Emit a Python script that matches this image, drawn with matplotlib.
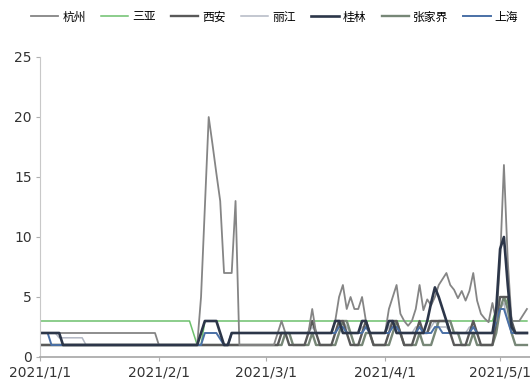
import matplotlib
matplotlib.use("Agg")
import matplotlib.pyplot as plt
import pandas as pd

# Daily index values, 2021-01-01 .. 2021-05-08
dates = pd.date_range("2021-01-01", "2021-05-08", freq="D")

hangzhou = [
    2, 2, 2, 2, 2, 2, 2, 2, 2, 2,
    2, 2, 2, 2, 2, 2, 2, 2, 2, 2,
    2, 2, 2, 2, 2, 2, 2, 2, 2, 2,
    2, 1, 1, 1, 1, 1, 1, 1, 1, 1,
    1, 1, 5, 12.5, 20, 17.7, 15.3, 13, 7, 7,
    7, 13, 1, 1, 1, 1, 1, 1, 1, 1,
    1, 1, 2, 3, 2, 2, 2, 2, 2, 2,
    2, 4, 2, 2, 2, 2, 2, 3, 5, 6,
    4, 5, 4, 4, 5, 3, 2, 2, 2, 2,
    2, 4, 5, 6, 3.6, 3, 2.6, 3, 4, 6,
    3.9, 4.8, 4.3, 5, 6, 6.5, 7, 6, 5.6, 4.9,
    5.5, 4.7, 5.5, 7, 4.7, 3.6, 3.2, 2.9, 4.5, 3,
    8, 16, 8, 3, 3, 3, 3.5, 4,
]

sanya = [
    3, 3, 3, 3, 3, 3, 3, 3, 3, 3,
    3, 3, 3, 3, 3, 3, 3, 3, 3, 3,
    3, 3, 3, 3, 3, 3, 3, 3, 3, 3,
    3, 3, 3, 3, 3, 3, 3, 3, 3, 3,
    2, 1, 1, 3, 3, 3, 3, 3, 3, 3,
    3, 3, 3, 3, 3, 3, 3, 3, 3, 3,
    3, 3, 3, 3, 3, 3, 3, 3, 3, 3,
    3, 3, 3, 3, 3, 3, 3, 3, 3, 3,
    3, 3, 3, 3, 3, 3, 3, 3, 3, 3,
    3, 3, 3, 3, 3, 3, 3, 3, 3, 3,
    3, 3, 3, 3, 3, 3, 3, 3, 3, 3,
    3, 3, 3, 3, 3, 3, 3, 3, 3, 4,
    5, 5, 4.5, 3, 3, 3, 3, 3,
]

xian = [
    1, 1, 1, 1, 1, 1, 1, 1, 1, 1,
    1, 1, 1, 1, 1, 1, 1, 1, 1, 1,
    1, 1, 1, 1, 1, 1, 1, 1, 1, 1,
    1, 1, 1, 1, 1, 1, 1, 1, 1, 1,
    1, 1, 1, 1, 1, 1, 1, 1, 1, 1,
    1, 1, 1, 1, 1, 1, 1, 1, 1, 1,
    1, 1, 1, 2, 2, 1, 1, 1, 1, 1,
    2, 3, 2, 1, 1, 1, 1, 2, 3, 3,
    2, 1, 1, 1, 2, 3, 2, 1, 1, 1,
    1, 2, 3, 3, 2, 1, 1, 1, 2, 3,
    2, 2, 3, 3, 3, 3, 3, 2, 1, 1,
    1, 1, 2, 3, 2, 1, 1, 1, 1, 3,
    5, 5, 5, 3, 2, 2, 2, 2,
]

lijiang = [
    2, 2, 2, 2, 2, 1.6, 1.6, 1.6, 1.6, 1.6,
    1.6, 1.6, 1, 1, 1, 1, 1, 1, 1, 1,
    1, 1, 1, 1, 1, 1, 1, 1, 1, 1,
    1, 1, 1, 1, 1, 1, 1, 1, 1, 1,
    1, 1, 1, 1, 1, 1, 1, 1, 1, 1,
    1, 1, 1, 1, 1, 1, 1, 1, 1, 1,
    1, 1, 1, 2, 2, 2, 2, 2, 2, 2,
    2, 2.5, 2, 2, 2, 2, 2, 2, 2.5, 3,
    2.5, 2, 2, 2, 2.5, 2.5, 2, 2, 2, 2,
    2, 2.5, 3, 2.5, 2, 2, 2, 2, 2.5, 2.5,
    2, 2, 2.5, 3, 2.5, 2.5, 2.5, 2, 2, 2,
    2, 2, 2.5, 2.5, 2, 2, 2, 2, 2, 3,
    4, 4.5, 3, 2, 2, 2, 2, 2,
]

guilin = [
    2, 2, 2, 2, 2, 2, 1, 1, 1, 1,
    1, 1, 1, 1, 1, 1, 1, 1, 1, 1,
    1, 1, 1, 1, 1, 1, 1, 1, 1, 1,
    1, 1, 1, 1, 1, 1, 1, 1, 1, 1,
    1, 1, 2, 3, 3, 3, 3, 2, 1, 1,
    2, 2, 2, 2, 2, 2, 2, 2, 2, 2,
    2, 2, 2, 2, 2, 2, 2, 2, 2, 2,
    2, 2, 2, 2, 2, 2, 2, 3, 3, 2,
    2, 2, 2, 2, 3, 3, 2, 2, 2, 2,
    2, 3, 3, 2, 2, 2, 2, 2, 2, 2,
    2, 3, 4.5, 5.8, 5, 4, 3, 2, 2, 2,
    2, 2, 2, 2, 2, 2, 2, 2, 2, 4,
    9, 10, 6, 2.5, 2, 2, 2, 2,
]

zhangjiajie = [
    1, 1, 1, 1, 1, 1, 1, 1, 1, 1,
    1, 1, 1, 1, 1, 1, 1, 1, 1, 1,
    1, 1, 1, 1, 1, 1, 1, 1, 1, 1,
    1, 1, 1, 1, 1, 1, 1, 1, 1, 1,
    1, 1, 1, 1, 1, 1, 1, 1, 1, 1,
    1, 1, 1, 1, 1, 1, 1, 1, 1, 1,
    1, 1, 1, 1, 2, 2, 1, 1, 1, 1,
    1, 2, 1, 1, 1, 1, 1, 1, 2, 3,
    3, 2, 1, 1, 1, 2, 2, 1, 1, 1,
    1, 1, 2, 3, 2, 1, 1, 1, 1, 2,
    1, 1, 1, 2, 3, 3, 3, 3, 2, 2,
    1, 1, 1, 2, 1, 1, 1, 1, 1, 2,
    4, 5, 4, 2, 1, 1, 1, 1,
]

shanghai = [
    2, 2, 2, 1, 1, 1, 1, 1, 1, 1,
    1, 1, 1, 1, 1, 1, 1, 1, 1, 1,
    1, 1, 1, 1, 1, 1, 1, 1, 1, 1,
    1, 1, 1, 1, 1, 1, 1, 1, 1, 1,
    1, 1, 1, 2, 2, 2, 2, 1.5, 1, 1,
    2, 2, 2, 2, 2, 2, 2, 2, 2, 2,
    2, 2, 2, 2, 2, 2, 2, 2, 2, 2,
    2, 2, 2, 2, 2, 2, 2, 2, 2.5, 2.5,
    2, 2, 2, 2, 2, 2.5, 2, 2, 2, 2,
    2, 2, 2.5, 2.5, 2, 2, 2, 2, 2, 2.5,
    2, 2, 2, 2.5, 2.5, 2, 2, 2, 2, 2,
    2, 2, 2, 2.5, 2, 2, 2, 2, 2, 3,
    4, 4, 3, 2, 2, 2, 2, 2,
]

names = ["杭州", "三亚", "西安", "丽江", "桂林", "张家界", "上海"]
series = [hangzhou, sanya, xian, lijiang, guilin, zhangjiajie, shanghai]
colors = ["#858585", "#6cc06c", "#595959", "#b3b8c4", "#2c3649", "#778777", "#4a70a6"]
widths = [1.3, 1.1, 1.7, 1.1, 1.9, 1.7, 1.4]

yticks = [0, 5, 10, 15, 20, 25]
xtick_dates = pd.to_datetime(["2021-01-01", "2021-02-01", "2021-03-01", "2021-04-01", "2021-05-01"])
xtick_labels = ["2021/1/1", "2021/2/1", "2021/3/1", "2021/4/1", "2021/5/1"]

fig = plt.figure(figsize=(5.3, 3.89), dpi=100)
ax = fig.add_axes([40 / 530, 1 - 357 / 389, 490 / 530, (357 - 57) / 389])

# draw the light series first so the dark ones sit on top
order = [3, 1, 5, 2, 6, 0, 4]
lines = {}
for i in order:
    (ln,) = ax.plot(dates, series[i], color=colors[i], lw=widths[i])
    lines[i] = ln

ax.set_ylim(0, 25)
ax.set_yticks(yticks)
ax.set_xlim(pd.Timestamp("2021-01-01"), pd.Timestamp("2021-01-01") + pd.Timedelta(days=127.8))
ax.set_xticks(xtick_dates)
ax.set_xticklabels(xtick_labels)

for lab in ax.get_xticklabels() + ax.get_yticklabels():
    lab.set_fontsize(10)
    lab.set_color("#333333")

for s in ["top", "right"]:
    ax.spines[s].set_visible(False)
ax.spines["left"].set_color("#c8c8c8")
ax.spines["bottom"].set_color("#a6a6a6")
ax.spines["bottom"].set_linewidth(1.2)
ax.tick_params(axis="both", direction="out", length=3, color="#b0b0b0", pad=3)

handles = [lines[i] for i in range(7)]
fig.legend(handles, names, loc="center", bbox_to_anchor=(0.518, 1 - 17 / 389), ncol=7,
           frameon=False, handlelength=2.3, handletextpad=0.35, columnspacing=1.3,
           prop={"family": ["Noto Sans CJK SC", "DejaVu Sans"], "size": 8.5})

fig.savefig("out.png", dpi=100)
